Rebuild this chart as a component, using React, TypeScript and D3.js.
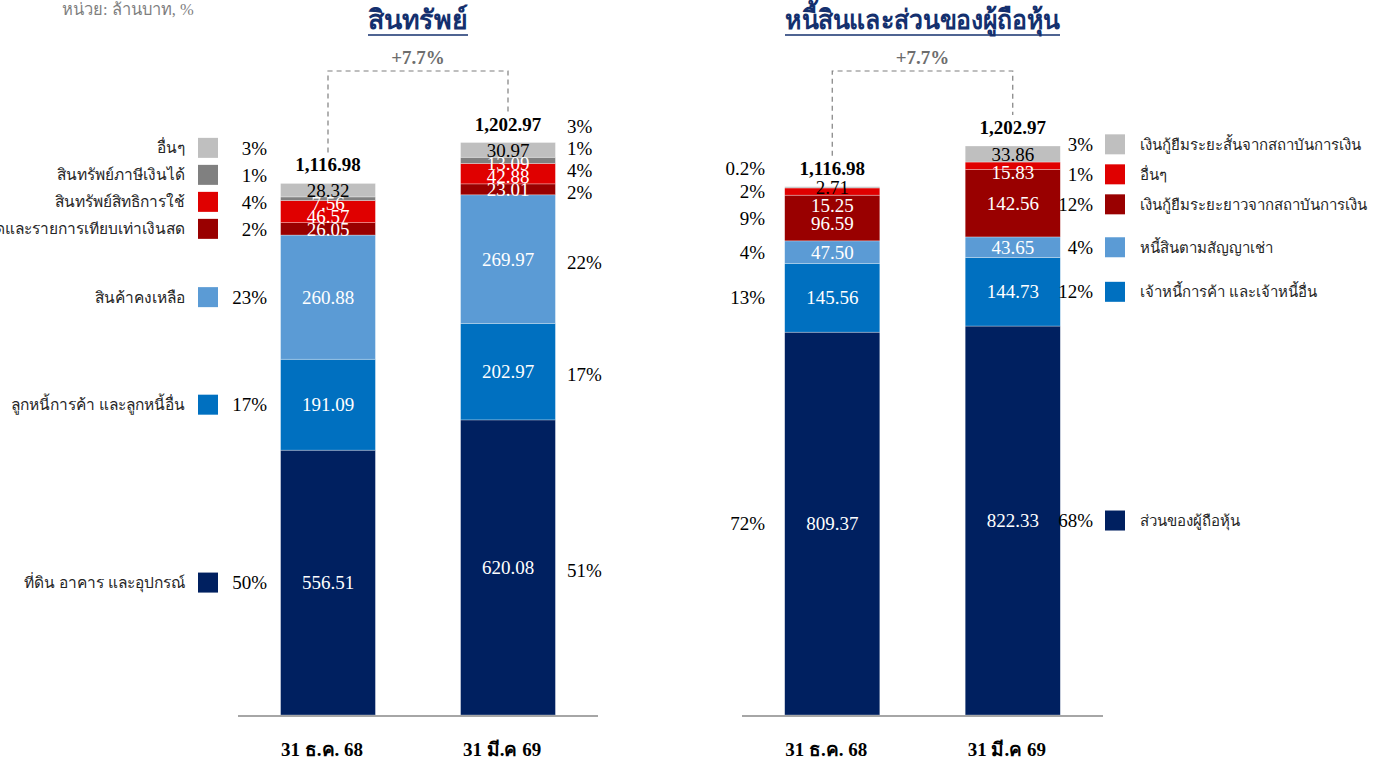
import * as d3 from 'd3'

const dates = ['31 ธ.ค. 68', '31 มี.ค 69']

// สินทรัพย์ (stack order: bottom -> top)
const assetNames = [
  'ที่ดิน อาคาร และอุปกรณ์',
  'ลูกหนี้การค้า และลูกหนี้อื่น',
  'สินค้าคงเหลือ',
  'เงินสดและรายการเทียบเท่าเงินสด',
  'สินทรัพย์สิทธิการใช้',
  'สินทรัพย์ภาษีเงินได้',
  'อื่นๆ',
]
const assetDec = [556.51, 191.09, 260.88, 26.05, 46.57, 7.56, 28.32]
const assetMar = [620.08, 202.97, 269.97, 23.01, 42.88, 13.09, 30.97]
const assetPctDec = ['50%', '17%', '23%', '2%', '4%', '1%', '3%']
const assetPctMar = ['51%', '17%', '22%', '2%', '4%', '1%', '3%']
const assetTotals = ['1,116.98', '1,202.97']

// หนี้สินและส่วนของผู้ถือหุ้น (stack order: bottom -> top)
const liabNames = [
  'ส่วนของผู้ถือหุ้น',
  'เจ้าหนี้การค้า และเจ้าหนี้อื่น',
  'หนี้สินตามสัญญาเช่า',
  'เงินกู้ยืมระยะยาวจากสถาบันการเงิน',
  'อื่นๆ',
  'เงินกู้ยืมระยะสั้นจากสถาบันการเงิน',
]
const liabDec = [809.37, 145.56, 47.5, 96.59, 15.25, 2.71]
const liabMar = [822.33, 144.73, 43.65, 142.56, 15.83, 33.86]
const liabPctDec = ['72%', '13%', '4%', '9%', '2%', '0.2%']
const liabPctMar = ['68%', '12%', '4%', '12%', '1%', '3%']
const liabTotals = ['1,116.98', '1,202.97']

const growth = '+7.7%'
const maxTotal = 1202.97

const NAVY = '#002060'
const BLUE = '#0070C0'
const LIGHT_BLUE = '#5B9BD5'
const DARK_RED = '#990000'
const RED = '#E00000'
const DARK_GRAY = '#808080'
const LIGHT_GRAY = '#BFBFBF'

const assetColors = [NAVY, BLUE, LIGHT_BLUE, DARK_RED, RED, DARK_GRAY, LIGHT_GRAY]
const liabColors = [NAVY, BLUE, LIGHT_BLUE, DARK_RED, RED, LIGHT_GRAY]

const FONT = '"Liberation Serif", "Times New Roman", "DejaVu Serif", serif'

type Mode = 'up' | 'down' | 'both'

// keep stacked labels apart; input is in stack order (bottom -> top)
function spread(ys: number[], gap: number, mode: Mode) {
  const out = ys.slice()
  const n = out.length
  if (mode === 'up') {
    for (let i = 1; i < n; i++) out[i] = Math.min(out[i], out[i - 1] - gap)
  } else if (mode === 'down') {
    for (let i = n - 2; i >= 0; i--) out[i] = Math.max(out[i], out[i + 1] + gap)
  } else {
    for (let k = 0; k < 100; k++) {
      for (let i = 0; i < n - 1; i++) {
        const d = out[i] - out[i + 1]
        if (d < gap) {
          const o = (gap - d) / 2
          out[i] += o
          out[i + 1] -= o
        }
      }
    }
  }
  return out
}

function stackOf(vals: number[], y: d3.ScaleLinear<number, number>) {
  let acc = 0
  return vals.map(v => {
    const y0 = y(acc)
    acc += v
    const y1 = y(acc)
    return { v, top: y1, bottom: y0, mid: (y0 + y1) / 2 }
  })
}

interface PanelProps {
  title: string
  titleWidth: number
  names: string[]
  colors: string[]
  series: number[][]
  pcts: string[][]
  totals: string[]
  xRange: [number, number]
  yRange: [number, number]
  valueGap: number
  legendBar: number
  legendFont: number
  legend: { pctX: number; pctAnchor: string; swatchX: number; labelX: number; labelAnchor: string; gap: number; mode: Mode }
  otherPct: { x: number; anchor: string; gap: number; mode: Mode; shift: number }
}

function Panel(p: PanelProps) {
  const x = d3.scaleBand<string>()
    .domain(dates)
    .range(p.xRange)
    .paddingInner(0.473)
    .paddingOuter(0.2365)
  const y = d3.scaleLinear().domain([0, maxTotal]).range(p.yRange)
  const bw = x.bandwidth()
  const stacks = p.series.map(s => stackOf(s, y))
  const cx = dates.map(d => (x(d) || 0) + bw / 2)
  const tops = stacks.map(s => s[s.length - 1].top)
  const bracketY = 71
  const otherBar = 1 - p.legendBar
  const midX = (p.xRange[0] + p.xRange[1]) / 2

  const legendYs = spread(stacks[p.legendBar].map(s => s.mid), p.legend.gap, p.legend.mode)
  const otherYs = spread(stacks[otherBar].map(s => s.mid), p.otherPct.gap, p.otherPct.mode)
    .map(v => v + p.otherPct.shift)

  return (
    <g>
      <text
        x={midX - p.titleWidth / 2}
        y={29}
        fontSize={27}
        fontWeight="bold"
        fill="#14306E"
        textLength={p.titleWidth}
        lengthAdjust="spacingAndGlyphs"
      >
        {p.title}
      </text>
      <line x1={midX - p.titleWidth / 2} x2={midX + p.titleWidth / 2} y1={35} y2={35} stroke="#14306E" strokeWidth={1.5} />

      {/* growth bracket */}
      <path
        d={`M${cx[0]},${tops[0] - 31} V${bracketY} H${cx[1]} V${tops[1] - 31}`}
        fill="none"
        stroke="#7F7F7F"
        strokeWidth={1.2}
        strokeDasharray="5,4"
      />
      <text x={(cx[0] + cx[1]) / 2} y={bracketY - 7} textAnchor="middle" fontSize={19} fontWeight="bold" fill="#6D6D6D">
        {growth}
      </text>

      {stacks.map((s, bi) => {
        const labelYs = spread(s.map(d => d.mid), p.valueGap, 'down')
        return (
          <g key={bi}>
            {s.map((d, i) => (
              <rect
                key={i}
                x={x(dates[bi])}
                y={d.top}
                width={bw}
                height={d.bottom - d.top}
                fill={p.colors[i]}
                stroke="#fff"
                strokeOpacity={0.5}
                strokeWidth={0.6}
              />
            ))}
            {s.map((d, i) => (
              <text
                key={'t' + i}
                x={cx[bi]}
                y={labelYs[i]}
                dy="0.35em"
                textAnchor="middle"
                fontSize={19}
                fill={p.colors[i] === LIGHT_GRAY ? '#000' : '#fff'}
              >
                {d.v.toFixed(2)}
              </text>
            ))}
            <text x={cx[bi]} y={tops[bi] - 12} textAnchor="middle" fontSize={19} fontWeight="bold" fill="#000">
              {p.totals[bi]}
            </text>
            <text x={cx[bi] - 6} y={756} textAnchor="middle" fontSize={19} fontWeight="bold" fill="#000">
              {dates[bi]}
            </text>
          </g>
        )
      })}

      <line x1={p.xRange[0]} x2={p.xRange[1]} y1={y(0) + 1} y2={y(0) + 1} stroke="#A6A6A6" strokeWidth={2} />

      {/* legend with percentages of the legend bar */}
      {p.names.map((n, i) => (
        <g key={'lg' + i}>
          <rect x={p.legend.swatchX} y={legendYs[i] - 10} width={20} height={20} fill={p.colors[i]} />
          <text x={p.legend.labelX} y={legendYs[i]} dy="0.35em" textAnchor={p.legend.labelAnchor} fontSize={p.legendFont} fill="#262626">
            {n}
          </text>
          <text x={p.legend.pctX} y={legendYs[i]} dy="0.35em" textAnchor={p.legend.pctAnchor} fontSize={19} fill="#000">
            {p.pcts[p.legendBar][i]}
          </text>
        </g>
      ))}

      {/* percentages of the other bar */}
      {p.pcts[otherBar].map((t, i) => (
        <text key={'op' + i} x={p.otherPct.x} y={otherYs[i]} dy="0.35em" textAnchor={p.otherPct.anchor} fontSize={19} fill="#000">
          {t}
        </text>
      ))}
    </g>
  )
}

export default function App() {
  return (
    <svg
      width={1373}
      height={761}
      style={{ position: 'absolute', left: 0, top: 0, background: '#fff' }}
      fontFamily={FONT}
    >
      <text x={62} y={15} fontSize={16.5} fill="#7F7F7F">หน่วย: ล้านบาท, %</text>
      <Panel
        title="สินทรัพย์"
        titleWidth={100}
        names={assetNames}
        colors={assetColors}
        series={[assetDec, assetMar]}
        pcts={[assetPctDec, assetPctMar]}
        totals={assetTotals}
        xRange={[238, 598]}
        yRange={[715, 142.5]}
        valueGap={13}
        legendBar={0}
        legendFont={15.5}
        legend={{ pctX: 267, pctAnchor: 'end', swatchX: 198, labelX: 185, labelAnchor: 'end', gap: 27, mode: 'up' }}
        otherPct={{ x: 567, anchor: 'start', gap: 22, mode: 'up', shift: 3 }}
      />
      <Panel
        title="หนี้สินและส่วนของผู้ถือหุ้น"
        titleWidth={275}
        names={liabNames}
        colors={liabColors}
        series={[liabDec, liabMar]}
        pcts={[liabPctDec, liabPctMar]}
        totals={liabTotals}
        xRange={[742, 1103]}
        yRange={[715, 146]}
        valueGap={18}
        legendBar={1}
        legendFont={15}
        legend={{ pctX: 1093, pctAnchor: 'end', swatchX: 1105, labelX: 1140, labelAnchor: 'start', gap: 30, mode: 'both' }}
        otherPct={{ x: 765, anchor: 'end', gap: 23, mode: 'up', shift: 0 }}
      />
    </svg>
  )
}
